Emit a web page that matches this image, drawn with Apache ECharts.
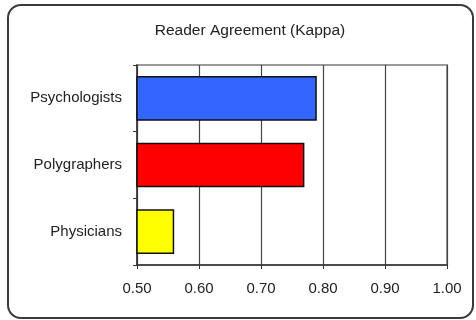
<!DOCTYPE html>
<html>
<head>
<meta charset="utf-8">
<script src="https://cdn.jsdelivr.net/npm/echarts@6/dist/echarts.min.js"></script>
<style>
  html, body { margin: 0; padding: 0; background: #fff; }
  #chart { width: 476px; height: 320px; }
</style>
</head>
<body>
<div id="chart"></div>
<script>
// Reader agreement (kappa) by professional group, listed bottom to top
const groups = ['Physicians', 'Polygraphers', 'Psychologists'];
const kappa = [0.56, 0.77, 0.79];
const barColors = ['#FFFF00', '#FF0000', '#3366FF'];
const kappaTicks = [0.5, 0.6, 0.7, 0.8, 0.9, 1.0];

const font = 'Liberation Sans, Arial, sans-serif';
const chart = echarts.init(document.getElementById('chart'), null, { renderer: 'canvas' });

chart.setOption({
  animation: false,
  backgroundColor: '#fff',
  title: {
    text: 'Reader Agreement (Kappa)',
    left: 245,
    top: 18,
    textAlign: 'center',
    textStyle: { fontFamily: font, fontSize: 15.5, fontWeight: 'normal', color: '#222' }
  },
  graphic: [{
    type: 'rect',
    shape: { x: 8, y: 5, width: 465, height: 313, r: 13 },
    style: { fill: 'none', stroke: '#3a3a3a', lineWidth: 2 },
    z: 100
  }],
  grid: {
    left: 137, right: 29, top: 65, bottom: 55,
    show: true, borderColor: '#9a9a9a', borderWidth: 2
  },
  xAxis: {
    type: 'value',
    min: kappaTicks[0],
    max: kappaTicks[kappaTicks.length - 1],
    interval: 0.1,
    axisLine: { show: true, lineStyle: { color: '#333', width: 1.5 } },
    axisTick: { show: true, length: 4, lineStyle: { color: '#333' } },
    splitLine: { show: true, lineStyle: { color: '#444', width: 1.2 } },
    axisLabel: {
      fontFamily: font, fontSize: 15, color: '#222', margin: 16,
      formatter: v => v.toFixed(2)
    }
  },
  yAxis: {
    type: 'category',
    data: groups,
    axisLine: { show: true, lineStyle: { color: '#333', width: 1.5 } },
    axisTick: { show: true, length: 4, lineStyle: { color: '#333' } },
    axisLabel: { fontFamily: font, fontSize: 15, color: '#222', margin: 15 }
  },
  series: [{
    type: 'bar',
    data: kappa.map((v, i) => ({ value: v, itemStyle: { color: barColors[i] } })),
    barWidth: '67%',
    itemStyle: { borderColor: '#111', borderWidth: 1.5 }
  }]
});
</script>
</body>
</html>
